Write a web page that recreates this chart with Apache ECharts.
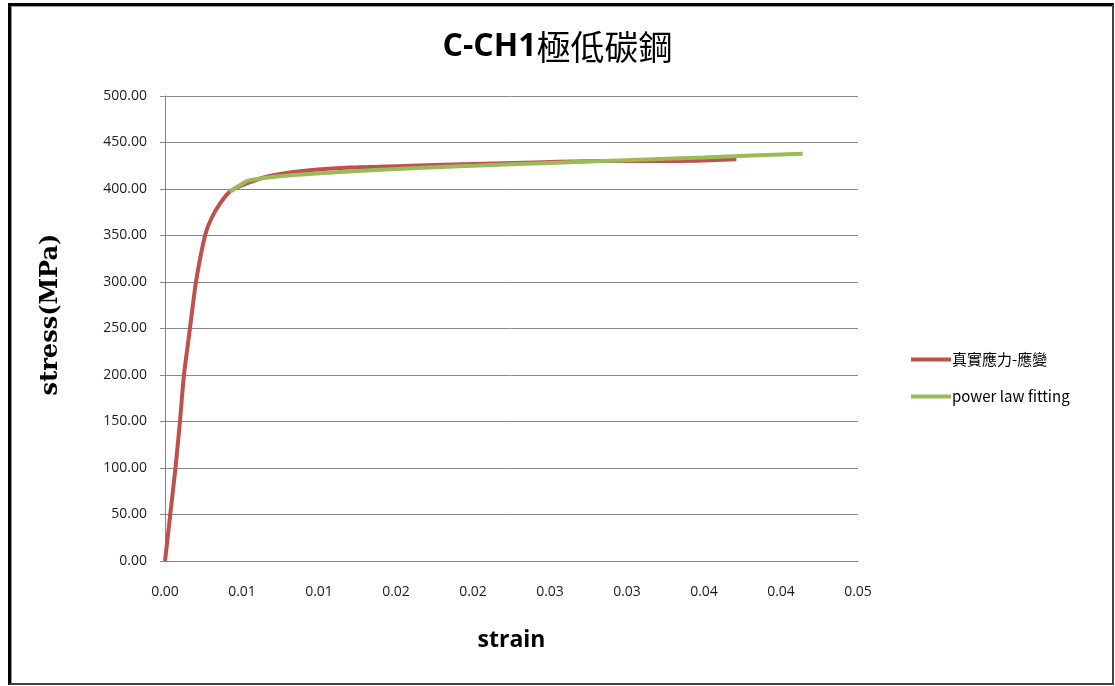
<!DOCTYPE html>
<html>
<head>
<meta charset="utf-8">
<script src="https://cdn.jsdelivr.net/npm/echarts@6/dist/echarts.min.js"></script>
<style>
  html, body { margin: 0; padding: 0; background: #fff; }
  /* outer frame like the excel chart box */
  .frame {
    position: absolute;
    left: 8px; top: 3px;
    width: 1101px; height: 677px;
    border-top: 3px solid #000;
    border-left: 3px solid #000;
    border-right: 2px solid #444;
    border-bottom: 2px solid #444;
    box-shadow: inset 1px 1px 0 #999;
  }
  #chart { position: absolute; left: 0; top: 0; width: 1115px; height: 686px; }
</style>
</head>
<body>
<div class="frame"></div>
<div id="chart"></div>
<script>
// true stress-strain (red)
const trueStrain = [0, 0.00034, 0.00068, 0.00097, 0.00123, 0.00162, 0.00201, 0.0026, 0.0030, 0.0036, 0.0042,
  0.0053, 0.0068, 0.0088, 0.012, 0.016, 0.020, 0.024, 0.028, 0.032, 0.0345, 0.0371];
const trueStress = [0, 50, 100, 150, 200, 250, 300, 350, 368, 385, 397,
  406, 414, 419, 423, 425, 427, 428.5, 430, 430, 430.5, 432];

// power law fitting (green)
const fitStrain = [0.0042, 0.0054, 0.007, 0.010, 0.015, 0.020, 0.025, 0.030, 0.035, 0.0414];
const fitStress = [397, 409, 413, 417, 421.5, 425, 428, 431, 434, 438];

// excel-style rounded tick labels
const xTickLabels = ['0.00', '0.01', '0.01', '0.02', '0.02', '0.03', '0.03', '0.04', '0.04', '0.05'];

const chart = echarts.init(document.getElementById('chart'));

const option = {
  animation: false,
  title: {
    text: '{a|C-CH1}{b|極低碳鋼}',
    left: 'center',
    top: 25,
    textStyle: {
      rich: {
        a: { fontFamily: 'Open Sans', fontWeight: 'bold', fontSize: 32, color: '#000' },
        b: { fontFamily: 'Noto Sans CJK TC', fontWeight: 'normal', fontSize: 34, color: '#000' }
      }
    }
  },
  legend: {
    orient: 'vertical',
    left: 906,
    top: 347,
    itemGap: 22,
    itemWidth: 40,
    itemHeight: 4,
    icon: 'rect',
    textStyle: { fontSize: 15, fontFamily: 'Noto Sans CJK TC', color: '#000', padding: [0, 0, 0, -4] },
    data: ['真實應力-應變', 'power law fitting']
  },
  grid: { left: 165, right: 257, top: 96, bottom: 125 },
  xAxis: {
    type: 'value',
    min: 0,
    max: 0.045,
    interval: 0.005,
    name: 'strain',
    nameLocation: 'middle',
    nameGap: 68,
    nameTextStyle: { fontFamily: 'Open Sans', fontWeight: 'bold', fontSize: 23, color: '#000' },
    axisLine: { lineStyle: { color: '#888', width: 1 } },
    axisTick: { show: false },
    splitLine: { show: false },
    axisLabel: {
      margin: 24,
      fontSize: 14,
      color: '#1a1a2e',
      fontFamily: 'Open Sans',
      formatter: function (v) {
        return xTickLabels[Math.round(v / 0.005)];
      }
    }
  },
  yAxis: {
    type: 'value',
    min: 0,
    max: 500,
    interval: 50,
    name: 'stress(MPa)',
    nameLocation: 'middle',
    nameGap: 102,
    nameTextStyle: { fontFamily: 'DejaVu Serif', fontWeight: 'bold', fontSize: 24, color: '#000', padding: [0, 0, 0, 28] },
    axisLine: { show: true, lineStyle: { color: '#888', width: 1 } },
    axisTick: { show: true, length: 5, lineStyle: { color: '#888' } },
    splitLine: { lineStyle: { color: '#888', width: 1 } },
    axisLabel: {
      margin: 18,
      fontSize: 14,
      color: '#1a1a2e',
      fontFamily: 'Open Sans',
      formatter: function (v) { return v.toFixed(2); }
    }
  },
  series: [
    {
      name: '真實應力-應變',
      type: 'line',
      data: trueStrain.map((x, i) => [x, trueStress[i]]),
      showSymbol: false,
      smooth: 0.2,
      lineStyle: { color: '#c0504d', width: 4 },
      itemStyle: { color: '#c0504d' }
    },
    {
      name: 'power law fitting',
      type: 'line',
      data: fitStrain.map((x, i) => [x, fitStress[i]]),
      showSymbol: false,
      smooth: 0.2,
      lineStyle: { color: '#9bbb59', width: 4 },
      itemStyle: { color: '#9bbb59' }
    }
  ]
};

chart.setOption(option);
</script>
</body>
</html>
